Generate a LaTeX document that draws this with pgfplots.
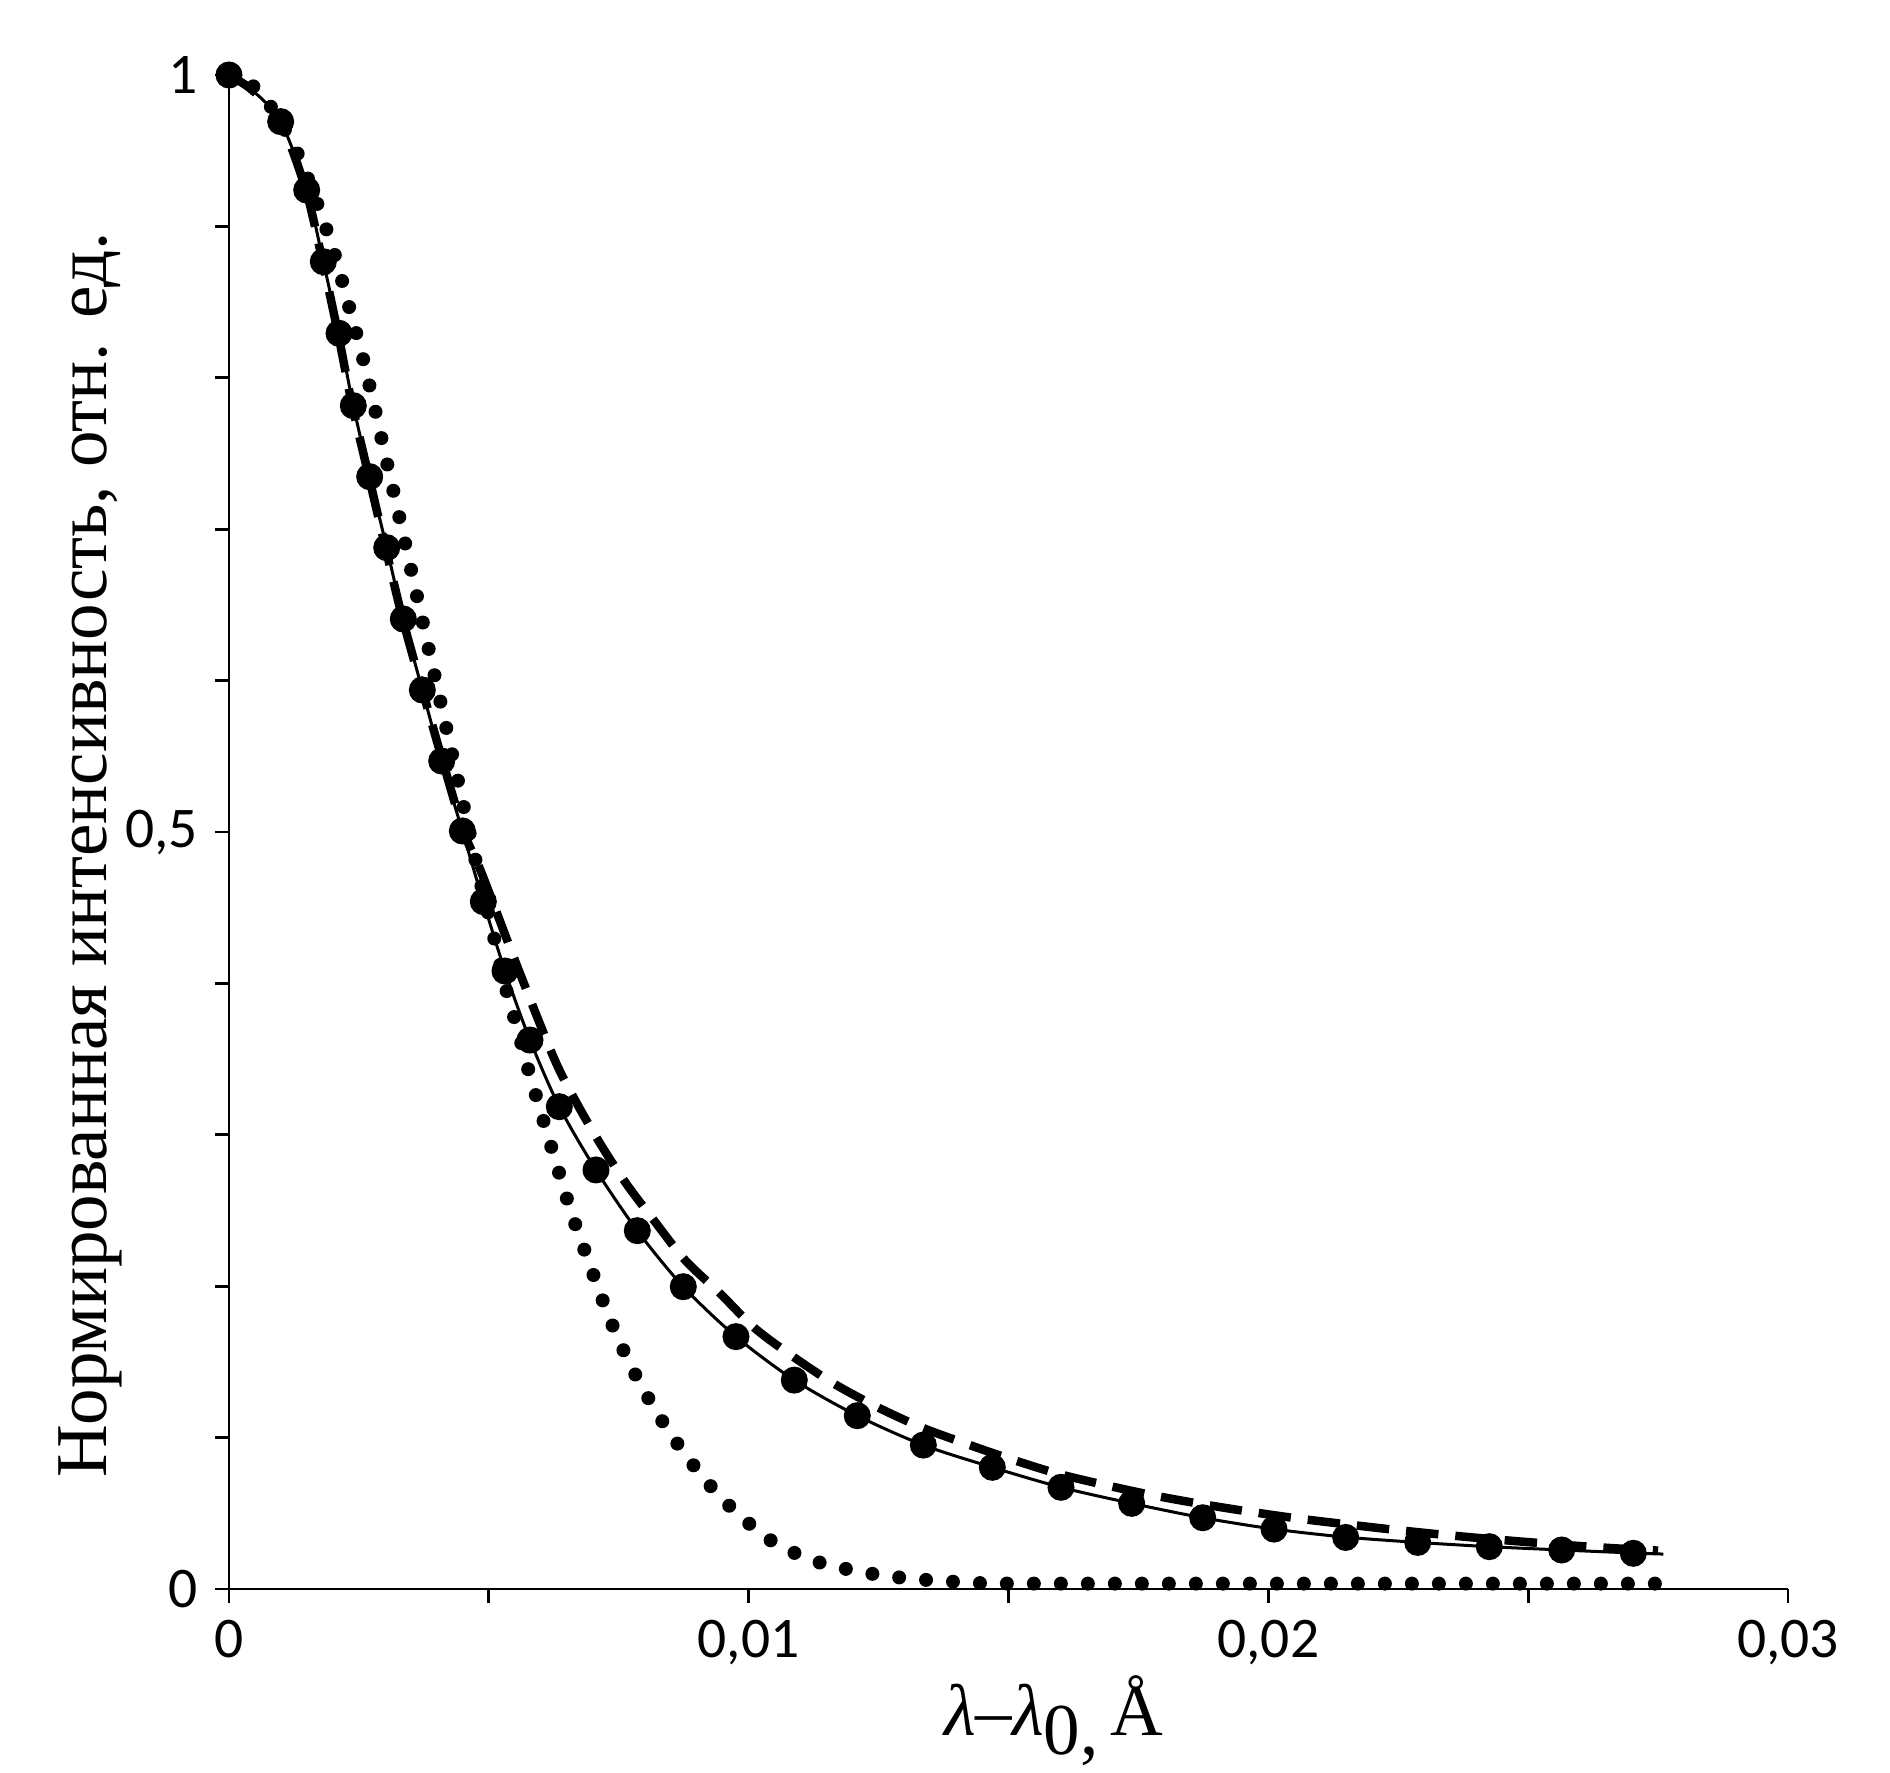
\documentclass[border=0pt]{standalone}
\usepackage{fontspec}
\setmainfont{Liberation Serif}
\newfontfamily\carlito{Carlito}
\usepackage{pgfplots}
\pgfplotsset{compat=1.18}

\pgfplotstableread{
x y
0 1
0.000994 0.9692
0.001495 0.9240
0.001815 0.8767
0.002117 0.8294
0.002392 0.7816
0.002707 0.7347
0.003035 0.6878
0.003354 0.6407
0.003720 0.5938
0.004093 0.5469
0.004490 0.5007
0.004894 0.4540
0.005311 0.4082
0.005792 0.3626
0.006356 0.3186
0.007062 0.2768
0.007857 0.2367
0.008742 0.1997
0.009756 0.1667
0.010878 0.1380
0.012090 0.1145
0.013361 0.0951
0.014688 0.0804
0.016010 0.0672
0.017370 0.0566
0.018737 0.0471
0.020109 0.0396
0.021488 0.0341
0.022874 0.0308
0.024252 0.0280
0.025645 0.0258
0.027023 0.0236
}\dots

\pgfplotstableread{
x y
0 1
0.000449 0.9899
0.000994 0.9692
0.001495 0.9240
0.001815 0.8767
0.002117 0.8294
0.002392 0.7816
0.002707 0.7347
0.003035 0.6878
0.003354 0.6407
0.003720 0.5938
0.004093 0.5469
0.004490 0.5007
0.004894 0.4540
0.005311 0.4082
0.005792 0.3626
0.006356 0.3186
0.007062 0.2768
0.007857 0.2367
0.008742 0.1997
0.009756 0.1667
0.010878 0.1380
0.012090 0.1145
0.013361 0.0951
0.014688 0.0804
0.016010 0.0672
0.017370 0.0566
0.018737 0.0471
0.020109 0.0396
0.021488 0.0343
0.022874 0.0308
0.024252 0.0280
0.025645 0.0258
0.027023 0.0238
0.027600 0.0231
}\solid

\pgfplotstableread{
x y
0 1
0.00045 0.9899
0.00099 0.969
0.00148 0.924
0.00180 0.877
0.00210 0.829
0.00237 0.782
0.00269 0.735
0.00301 0.688
0.00334 0.641
0.00372 0.594
0.00411 0.547
0.00452 0.500
0.004863 0.4727
0.005536 0.4122
0.006241 0.3516
0.006658 0.3230
0.007139 0.2944
0.007639 0.2680
0.008197 0.2426
0.008775 0.2173
0.009448 0.1953
0.010122 0.1722
0.010859 0.1534
0.011629 0.1359
0.012463 0.1204
0.013297 0.1072
0.014163 0.0962
0.015029 0.0860
0.015927 0.0764
0.016824 0.0690
0.017741 0.0622
0.018652 0.0565
0.019564 0.0515
0.020481 0.0470
0.021393 0.0432
0.022309 0.0396
0.023240 0.0363
0.024156 0.0334
0.025069 0.0308
0.026001 0.0284
0.026825 0.0266
0.027500 0.0254
}\dashed

\pgfplotstableread{
x y
0 1
0.000436 0.9934
0.000783 0.9802
0.001303 0.9494
0.001680 0.9168
0.002021 0.8829
0.002296 0.8487
0.002565 0.8146
0.002804 0.7799
0.003027 0.7457
0.003258 0.7109
0.003483 0.6764
0.003708 0.6418
0.003932 0.6070
0.004157 0.5725
0.004382 0.5376
0.004603 0.5033
0.004830 0.4683
0.005074 0.4342
0.005311 0.3989
0.005586 0.3659
0.005715 0.3483
0.006306 0.2801
0.006614 0.2459
0.006960 0.2125
0.007318 0.1792
0.007742 0.1468
0.008242 0.1160
0.008826 0.0867
0.009481 0.0599
0.010250 0.0363
0.010686 0.0273
0.011147 0.0198
0.011636 0.0152
0.012136 0.0114
0.012637 0.0088
0.013137 0.0068
0.013649 0.0055
0.014157 0.0044
0.014663 0.0038
0.016000 0.0036
0.027500 0.0036
}\dotted

\begin{document}
\begin{tikzpicture}
\begin{axis}[
  width=311.8pt, height=302.8pt, scale only axis,
  xmin=0, xmax=0.03, ymin=0, ymax=1,
  axis x line=bottom, axis y line=left,
  axis line style={black, line width=0.55pt, -},
  xtick={0,0.01,0.02,0.03},
  xticklabels={0,{0,01},{0,02},{0,03}},
  minor xtick={0.005,0.015,0.025},
  ytick={0,0.5,1},
  yticklabels={0,{0,5},1},
  minor ytick={0.1,0.2,0.3,0.4,0.6,0.7,0.8,0.9},
  xtick align=outside, ytick align=outside,
  major tick length=2.7pt, minor tick length=2.7pt,
  tick style={black, line width=0.55pt},
  scaled x ticks=false, scaled y ticks=false,
  ticklabel style={font=\carlito\fontsize{11.5}{13}\selectfont},
  clip=false,
  xlabel={{\itshape λ}–{\itshape λ}\raisebox{-0.26em}{0,}\,Å},
  xlabel style={font=\fontsize{14.6}{17}\selectfont, at={(axis description cs:0.529,0)}, anchor=base, yshift=-29.2pt},
  ylabel={Нормированная интенсивность, отн. ед.},
  ylabel style={font=\fontsize{14.6}{17}\selectfont, at={(axis description cs:-0.0892,0.485)}, anchor=center, rotate=0},
]
\addplot[black, line width=2.8pt, line cap=round, dash pattern=on 0pt off 5.4pt, smooth] table {\dotted};
\addplot[black, line width=1.7pt, dash pattern=on 6.5pt off 3.4pt, smooth] table {\dashed};
\addplot[black, line width=0.6pt, smooth] table {\solid};
\addplot[black, only marks, mark=*, mark size=2.5pt, mark options={fill=black}] table {\dots};
\coordinate (O) at (rel axis cs:0,0);
\coordinate (T) at (rel axis cs:1,1);
\end{axis}
\pgfresetboundingbox
\path[use as bounding box] ([xshift=-45.8pt,yshift=-36.6pt]O) rectangle ([xshift=20.4pt,yshift=15pt]T);
\end{tikzpicture}
\end{document}
